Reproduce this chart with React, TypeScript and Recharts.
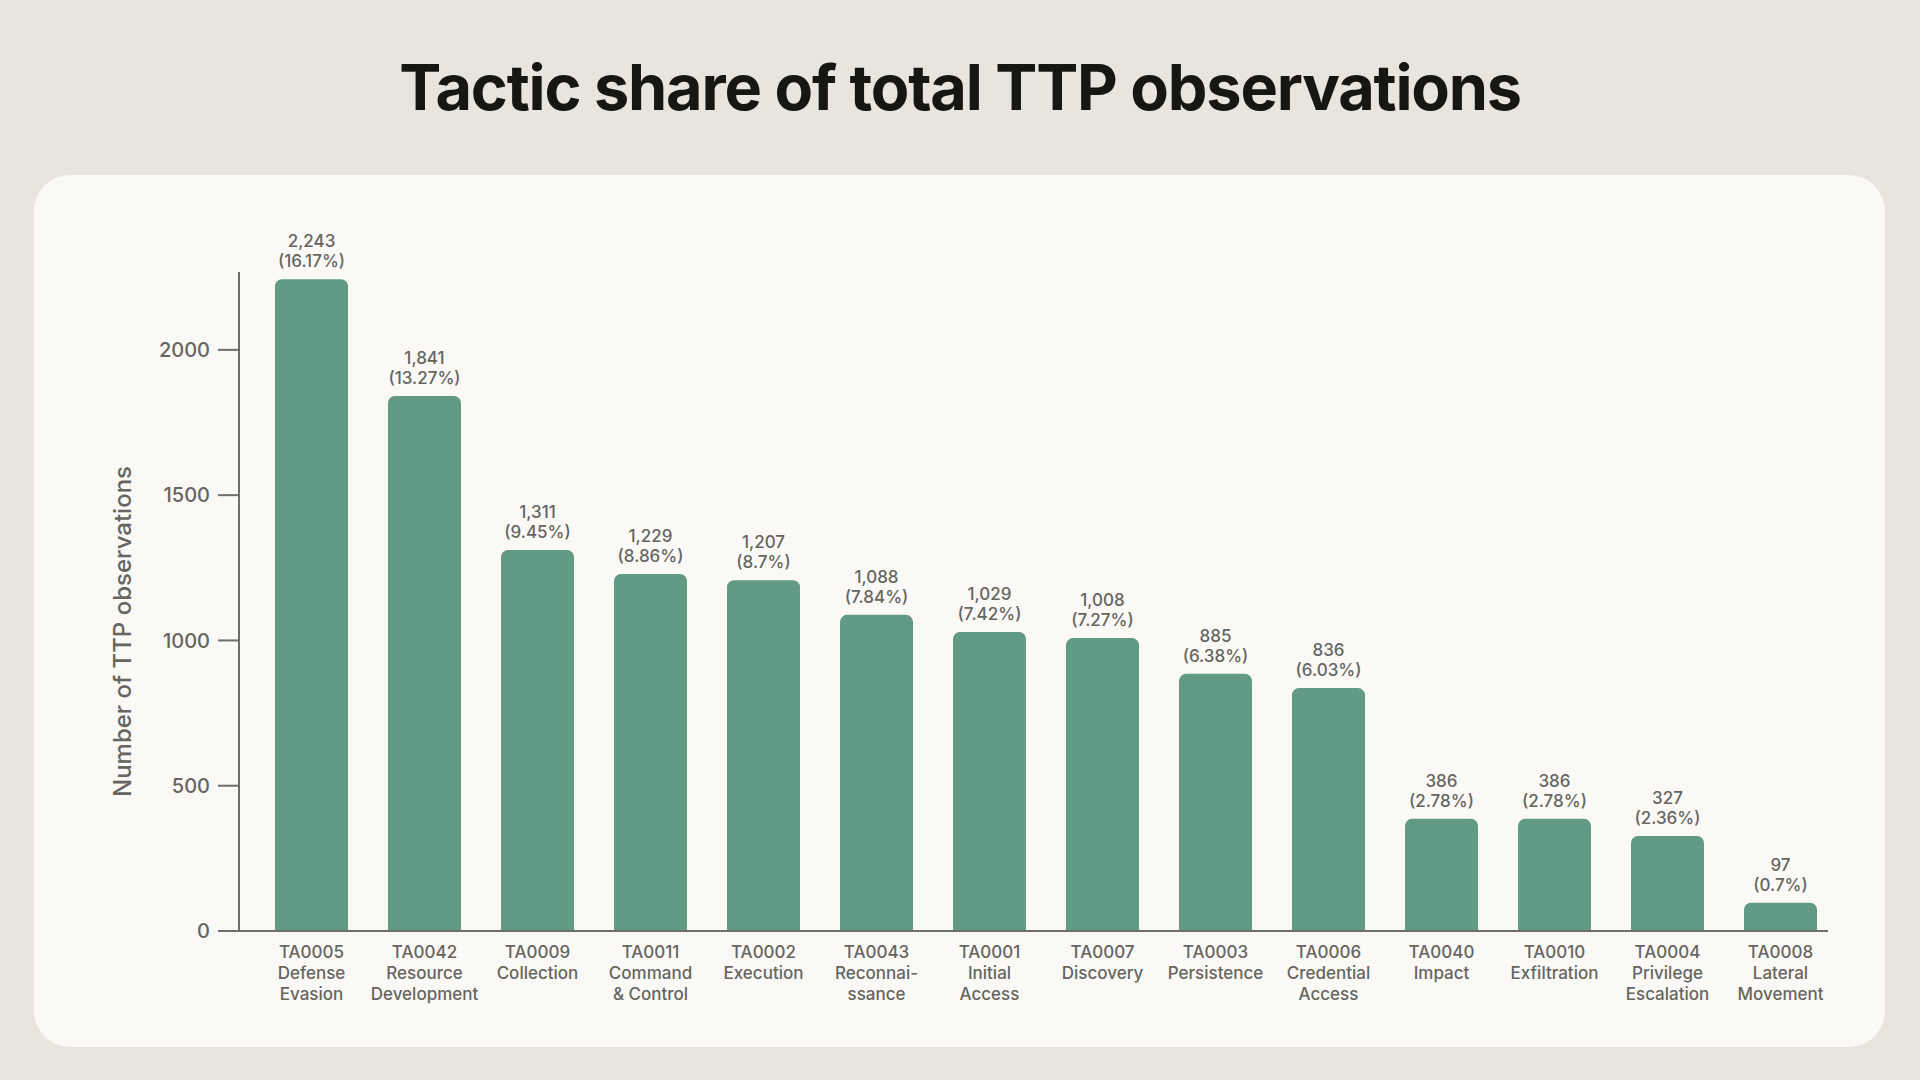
import { BarChart, Bar, XAxis, YAxis, LabelList, Label } from "recharts";

const TACTIC_IDS = [
  "TA0005", "TA0042", "TA0009", "TA0011", "TA0002", "TA0043", "TA0001",
  "TA0007", "TA0003", "TA0006", "TA0040", "TA0010", "TA0004", "TA0008",
];
const TACTIC_NAMES = [
  ["Defense", "Evasion"],
  ["Resource", "Development"],
  ["Collection"],
  ["Command", "& Control"],
  ["Execution"],
  ["Reconnai-", "ssance"],
  ["Initial", "Access"],
  ["Discovery"],
  ["Persistence"],
  ["Credential", "Access"],
  ["Impact"],
  ["Exfiltration"],
  ["Privilege", "Escalation"],
  ["Lateral", "Movement"],
];
const COUNTS = [2243, 1841, 1311, 1229, 1207, 1088, 1029, 1008, 885, 836, 386, 386, 327, 97];
const SHARES = ["16.17%", "13.27%", "9.45%", "8.86%", "8.7%", "7.84%", "7.42%", "7.27%", "6.38%", "6.03%", "2.78%", "2.78%", "2.36%", "0.7%"];
const Y_TICKS = [0, 500, 1000, 1500, 2000];

const data = TACTIC_IDS.map((id, i) => ({
  id,
  lines: [id, ...TACTIC_NAMES[i]],
  count: COUNTS[i],
  share: SHARES[i],
}));

const INK = "#161613";
const SOFT = "#666560";
const AXIS = "#6e6d68";
const BAR = "#629a86";
const FONT = "Inter, 'Noto Sans', sans-serif";

function XTick(props: any) {
  const { x, y, index } = props;
  const lines = data[index]?.lines ?? [];
  return (
    <text x={x} y={y} textAnchor="middle" fontFamily={FONT} fontSize={17} fontWeight={500} fill={SOFT}>
      {lines.map((l: string, i: number) => (
        <tspan key={i} x={x} dy={i === 0 ? 27 : 21}>{l}</tspan>
      ))}
    </text>
  );
}

function ValueLabel(props: any) {
  const { x, y, width, index } = props;
  const d = data[index];
  const cx = x + width / 2;
  return (
    <text textAnchor="middle" fontFamily={FONT} fontSize={17} fontWeight={500} fill={SOFT}>
      <tspan x={cx} y={y - 32}>{d.count.toLocaleString("en-US")}</tspan>
      <tspan x={cx} y={y - 12}>({d.share})</tspan>
    </text>
  );
}

function YTitle(props: any) {
  const vb = props.viewBox;
  const cx = vb.x - 17;
  const cy = vb.y + vb.height / 2 + 30;
  return (
    <text
      x={cx}
      y={cy}
      transform={`rotate(-90, ${cx}, ${cy})`}
      textAnchor="middle"
      dominantBaseline="central"
      fontFamily={FONT}
      fontSize={24}
      fontWeight={500}
      fill={SOFT}
    >
      Number of TTP observations
    </text>
  );
}

export default function App() {
  return (
    <div style={{ position: "absolute", left: 0, top: 0, width: 1920, height: 1080, background: "#e8e5de", overflow: "hidden" }}>
      <div
        style={{
          position: "absolute", left: 0, top: 56, width: 1920, textAlign: "center",
          fontFamily: FONT, fontSize: 63, lineHeight: "63px", fontWeight: 700,
          letterSpacing: "-1.2px", color: INK,
        }}
      >
        Tactic share of total TTP observations
      </div>
      <div
        style={{
          position: "absolute", left: 34, top: 175, width: 1851, height: 872,
          borderRadius: 36, background: "#faf9f6",
        }}
      />
      <div style={{ position: "absolute", left: 0, top: 0 }}>
        <BarChart
          width={1920}
          height={1080}
          data={data}
          margin={{ top: 272, right: 92, bottom: 49, left: 139 }}
        >
          <XAxis
            dataKey="id"
            height={100}
            padding={{ left: 16, right: -9 }}
            axisLine={{ stroke: AXIS, strokeWidth: 2 }}
            tickLine={false}
            tickSize={0}
            tickMargin={0}
            interval={0}
            tick={<XTick />}
          />
          <YAxis
            width={100}
            domain={[0, 2268]}
            ticks={Y_TICKS}
            allowDataOverflow
            axisLine={{ stroke: AXIS, strokeWidth: 2 }}
            tickLine={{ stroke: AXIS, strokeWidth: 2 }}
            tickSize={21}
            tickMargin={8}
            tick={{ fontFamily: FONT, fontSize: 20, fontWeight: 500, fill: SOFT }}
          >
            <Label content={<YTitle />} />
          </YAxis>
          <Bar dataKey="count" fill={BAR} barSize={73} radius={[7, 7, 0, 0]} isAnimationActive={false}>
            <LabelList dataKey="count" content={<ValueLabel />} />
          </Bar>
        </BarChart>
      </div>
    </div>
  );
}
